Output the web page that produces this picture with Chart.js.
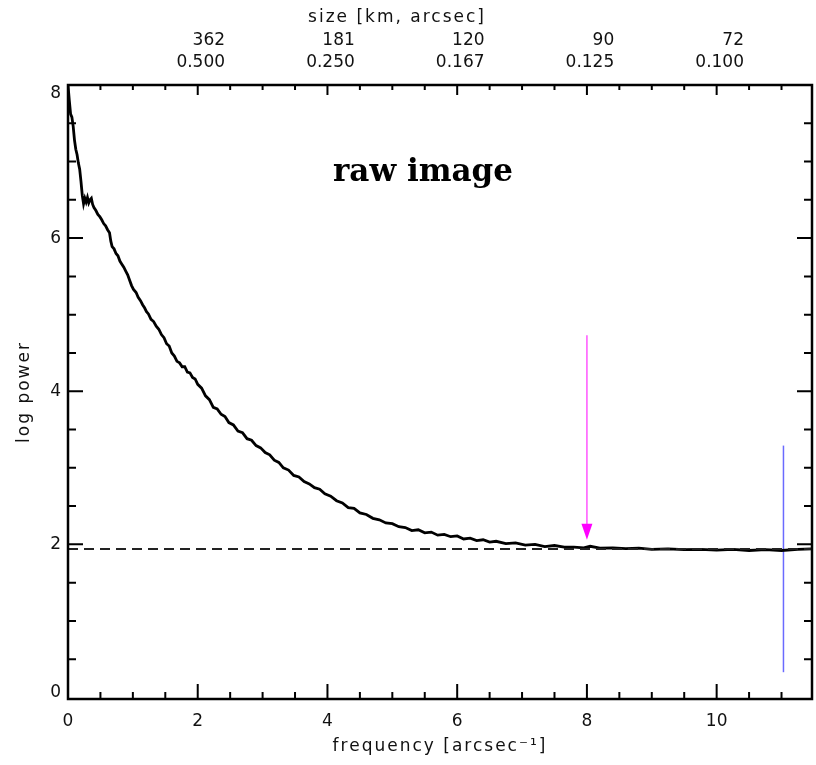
<!DOCTYPE html>
<html>
<head>
<meta charset="utf-8">
<script src="https://cdn.jsdelivr.net/npm/chart.js@4/dist/chart.umd.min.js"></script>
<style>
  html, body { margin: 0; padding: 0; background: #fff; }
  canvas { display: block; }
</style>
</head>
<body>
<canvas id="spec" width="816" height="765"></canvas>
<script>
// power spectrum of the raw image, log power vs spatial frequency
const freq = [
  0.00, 0.02, 0.04, 0.06, 0.08, 0.10, 0.12, 0.14, 0.16, 0.18,
  0.20, 0.22, 0.24, 0.26, 0.28, 0.30, 0.32, 0.34, 0.36, 0.38,
  0.40, 0.43, 0.46, 0.49, 0.52, 0.55, 0.58, 0.61, 0.64, 0.66,
  0.68, 0.71, 0.74, 0.77, 0.80, 0.83, 0.86, 0.89, 0.92, 0.95,
  0.98, 1.01, 1.05, 1.08, 1.12, 1.15, 1.18, 1.21, 1.24, 1.28,
  1.32, 1.36, 1.40, 1.44, 1.48, 1.52, 1.56, 1.60, 1.64, 1.68,
  1.72, 1.76, 1.80, 1.84, 1.88, 1.92, 1.96, 2.00, 2.06, 2.12,
  2.18, 2.24, 2.30, 2.36, 2.42, 2.48, 2.55, 2.62, 2.69, 2.76,
  2.83, 2.90, 2.97, 3.04, 3.11, 3.18, 3.25, 3.32, 3.40, 3.48,
  3.56, 3.64, 3.72, 3.80, 3.88, 3.96, 4.05, 4.14, 4.23, 4.32,
  4.41, 4.50, 4.60, 4.70, 4.80, 4.90, 5.00, 5.10, 5.20, 5.30,
  5.40, 5.50, 5.60, 5.70, 5.80, 5.90, 6.00, 6.10, 6.20, 6.30,
  6.40, 6.50, 6.60, 6.75, 6.90, 7.05, 7.20, 7.35, 7.50, 7.65,
  7.80, 7.95, 8.05, 8.20, 8.40, 8.60, 8.80, 9.00, 9.25, 9.50,
  9.75, 10.00, 10.25, 10.50, 10.75, 11.00, 11.25, 11.47
];
const logPower = [
  8.00, 7.80, 7.62, 7.58, 7.46, 7.28, 7.16, 7.09, 6.98, 6.90,
  6.74, 6.56, 6.45, 6.52, 6.47, 6.53, 6.46, 6.50, 6.52, 6.44,
  6.40, 6.36, 6.31, 6.28, 6.24, 6.19, 6.16, 6.11, 6.07, 5.96,
  5.89, 5.86, 5.80, 5.77, 5.70, 5.66, 5.62, 5.57, 5.52, 5.45,
  5.38, 5.33, 5.29, 5.23, 5.18, 5.13, 5.09, 5.04, 5.01, 4.94,
  4.91, 4.85, 4.81, 4.74, 4.70, 4.62, 4.59, 4.50, 4.46, 4.39,
  4.37, 4.32, 4.32, 4.25, 4.24, 4.18, 4.16, 4.09, 4.04, 3.94,
  3.89, 3.79, 3.77, 3.70, 3.67, 3.59, 3.56, 3.48, 3.46, 3.38,
  3.36, 3.29, 3.26, 3.20, 3.17, 3.10, 3.07, 3.00, 2.97, 2.90,
  2.88, 2.82, 2.79, 2.74, 2.72, 2.66, 2.63, 2.57, 2.54, 2.48,
  2.47, 2.41, 2.39, 2.34, 2.32, 2.28, 2.27, 2.23, 2.22, 2.18,
  2.19, 2.15, 2.16, 2.12, 2.13, 2.10, 2.11, 2.07, 2.08, 2.05,
  2.06, 2.03, 2.04, 2.01, 2.02, 1.99, 2.00, 1.97, 1.985, 1.965,
  1.965, 1.955, 1.975, 1.95, 1.955, 1.945, 1.95, 1.935, 1.94, 1.93,
  1.935, 1.925, 1.935, 1.92, 1.93, 1.92, 1.935, 1.94
];

const noiseLevel = 1.94;          // dashed horizontal line
const markerFreq = 8.0;           // magenta arrow
const markerTop = 4.73;
const markerTip = 2.06;
const cutoffFreq = 11.03;         // blue vertical line
const cutoffRange = [0.33, 3.29];

const xMax = 11.47;
const xTickLabels = ['0', '2', '4', '6', '8', '10'];
const yTickLabels = ['0', '2', '4', '6', '8'];
const topTickFreq = [2, 4, 6, 8, 10];
const topArcsec = ['0.500', '0.250', '0.167', '0.125', '0.100'];
const topKm = ['362', '181', '120', '90', '72'];

const labelFont = '17px "DejaVu Sans"';

function spacedText(ctx, text, x, y, align) {
  ctx.letterSpacing = '2px';
  ctx.textAlign = align;
  ctx.fillText(text, x, y);
  ctx.letterSpacing = '0px';
}

const idlAxes = {
  id: 'idlAxes',
  afterDatasetsDraw(chart) {
    const { ctx, chartArea: a, scales: { x, y } } = chart;
    ctx.save();

    // arrow head
    const ax = x.getPixelForValue(markerFreq);
    const tip = y.getPixelForValue(markerTip);
    ctx.fillStyle = '#ff00ff';
    ctx.beginPath();
    ctx.moveTo(ax - 5.5, tip - 16);
    ctx.lineTo(ax + 5.5, tip - 16);
    ctx.lineTo(ax, tip);
    ctx.closePath();
    ctx.fill();

    // frame
    ctx.strokeStyle = '#000';
    ctx.lineWidth = 2.5;
    ctx.strokeRect(a.left, a.top, a.right - a.left, a.bottom - a.top);

    // ticks, every 0.5 with a longer one every 2
    ctx.lineWidth = 2;
    ctx.beginPath();
    for (let i = 1; i * 0.5 < xMax; i++) {
      const v = i * 0.5, px = x.getPixelForValue(v), major = i % 4 === 0;
      ctx.moveTo(px, a.bottom); ctx.lineTo(px, a.bottom - (major ? 15 : 7));
      ctx.moveTo(px, a.top); ctx.lineTo(px, a.top + (major ? 10 : 5));
    }
    for (let i = 1; i < 16; i++) {
      const py = y.getPixelForValue(i * 0.5), major = i % 4 === 0;
      ctx.moveTo(a.left, py); ctx.lineTo(a.left + (major ? 15 : 8), py);
      ctx.moveTo(a.right, py); ctx.lineTo(a.right - (major ? 15 : 8), py);
    }
    ctx.stroke();

    // tick labels
    ctx.fillStyle = '#111';
    ctx.font = labelFont;
    ctx.textBaseline = 'middle';
    ctx.textAlign = 'center';
    xTickLabels.forEach((t) => {
      ctx.fillText(t, x.getPixelForValue(Number(t)), 722);
    });
    ctx.textAlign = 'right';
    yTickLabels.forEach((t) => {
      let py = y.getPixelForValue(Number(t));
      py = Math.min(Math.max(py, a.top + 9), a.bottom - 6);
      ctx.fillText(t, 61, py);
    });

    // top axis: size in arcsec and km
    topTickFreq.forEach((f, i) => {
      const cx = x.getPixelForValue(f) + 3;
      ctx.textAlign = 'center';
      ctx.fillText(topArcsec[i], cx, 63);
      const right = cx + ctx.measureText(topArcsec[i]).width / 2;
      ctx.textAlign = 'right';
      ctx.fillText(topKm[i], right, 41);
    });

    // axis titles
    spacedText(ctx, 'size [km, arcsec]', 397, 18, 'center');
    spacedText(ctx, 'frequency [arcsec⁻¹]', (a.left + a.right) / 2, 747, 'center');
    ctx.save();
    ctx.translate(25, (a.top + a.bottom) / 2);
    ctx.rotate(-Math.PI / 2);
    spacedText(ctx, 'log power', 0, 0, 'center');
    ctx.restore();

    // panel title
    ctx.font = 'bold 31px "DejaVu Serif"';
    ctx.textAlign = 'center';
    ctx.textBaseline = 'alphabetic';
    ctx.fillStyle = '#000';
    ctx.fillText('raw image', 423, 181);

    ctx.restore();
  }
};

const ctx = document.getElementById('spec').getContext('2d');
new Chart(ctx, {
  type: 'line',
  data: {
    datasets: [
      {
        label: 'noise',
        data: [{ x: 0, y: noiseLevel }, { x: xMax, y: noiseLevel }],
        borderColor: '#222',
        borderWidth: 2,
        borderDash: [10, 6],
        pointRadius: 0
      },
      {
        label: 'power',
        data: freq.map((f, i) => ({ x: f, y: logPower[i] })),
        borderColor: '#000',
        borderWidth: 2.8,
        pointRadius: 0,
        tension: 0
      },
      {
        label: 'marker',
        data: [{ x: markerFreq, y: markerTop }, { x: markerFreq, y: markerTip + 0.15 }],
        borderColor: '#ff55ff',
        borderWidth: 1.5,
        pointRadius: 0
      },
      {
        label: 'cutoff',
        data: [{ x: cutoffFreq, y: cutoffRange[0] }, { x: cutoffFreq, y: cutoffRange[1] }],
        borderColor: '#6a6aff',
        borderWidth: 1.5,
        pointRadius: 0
      }
    ]
  },
  options: {
    responsive: false,
    animation: false,
    devicePixelRatio: 1,
    layout: { padding: { left: 68, right: 4, top: 85, bottom: 66 } },
    plugins: { legend: { display: false }, tooltip: { enabled: false } },
    scales: {
      x: { type: 'linear', min: 0, max: xMax, display: false },
      y: { type: 'linear', min: -0.02, max: 8, display: false }
    }
  },
  plugins: [idlAxes]
});
</script>
</body>
</html>
